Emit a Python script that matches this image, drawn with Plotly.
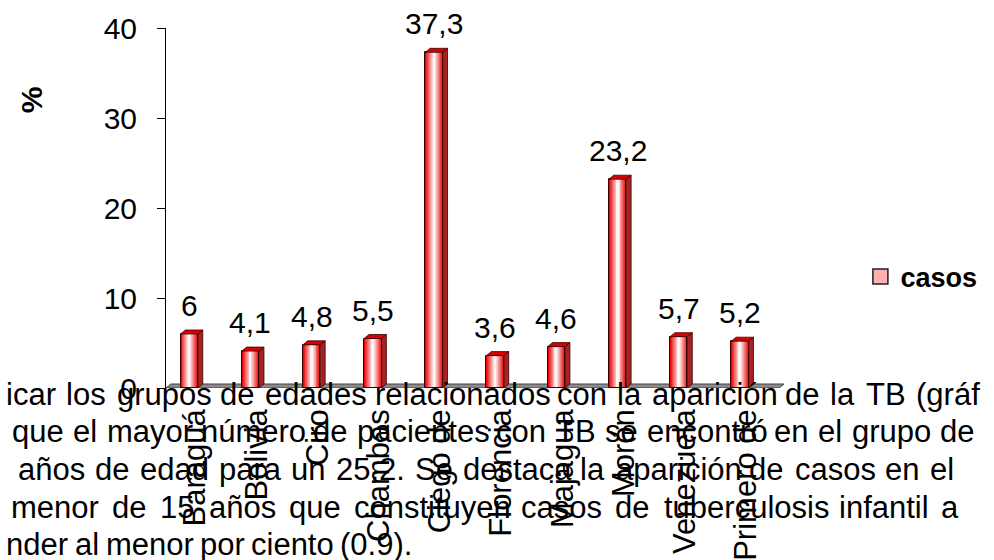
import plotly.graph_objects as go

# ---- data ----
municipios = ["Baraguá", "Bolivia", "Ciro", "Chambas", "Ciego de",
              "Florencia", "Majagua", "Morón", "Venezuela", "Primero de"]
casos = [6, 4.1, 4.8, 5.5, 37.3, 3.6, 4.6, 23.2, 5.7, 5.2]
y_ticks = [0, 10, 20, 30, 40]

# body text of the page the chart sits on
texto = [
    "icar los grupos de edades relacionados con la aparición de la TB (gráf",
    "que el mayor número de pacientes con TB se encontró en el grupo de",
    "años de edad para un 25.2. Se destaca la aparición de casos en el",
    "menor de 15 años que constituyen casos de tuberculosis infantil a",
    "nder al menor por ciento (0.9).",
]

FONT = "Liberation Sans, Arial, sans-serif"
W_PAGE, H_PAGE = 994, 560
L, R, T, B = 166, 189, 28, 172
PW, PH = W_PAGE - L - R, H_PAGE - T - B
X_RANGE = [-0.38, 9.72]
Y_RANGE = [0, 40]

ux = PW / (X_RANGE[1] - X_RANGE[0])   # px per category
uy = PH / (Y_RANGE[1] - Y_RANGE[0])   # px per %

bar_w = 18 / ux          # front face width
dx = 5 / ux              # depth offset (horizontal)
dy = 4 / uy              # depth offset (vertical)

xs = list(range(len(casos)))

fig = go.Figure()

# front faces: stacked narrower layers give a red -> white horizontal gradient
N = 9
c0 = (232, 8, 8)
c1 = (255, 244, 244)
for k in range(N):
    t = k / (N - 1)
    col = tuple(round(c0[j] + (c1[j] - c0[j]) * t) for j in range(3))
    fig.add_trace(go.Bar(
        x=xs, y=casos, width=bar_w * (1 - k / N),
        marker=dict(color="rgb(%d,%d,%d)" % col, line=dict(width=0)),
        showlegend=False, hoverinfo="skip",
    ))
# outline of the front faces
fig.add_trace(go.Bar(
    x=xs, y=casos, width=bar_w,
    marker=dict(color="rgba(0,0,0,0)", line=dict(width=1, color="#3a0000")),
    showlegend=False, hoverinfo="skip",
))

# side and top faces of each column
sx, sy, tx, ty = [], [], [], []
for x, v in zip(xs, casos):
    xr = x + bar_w / 2
    xl = x - bar_w / 2
    sx += [xr, xr + dx, xr + dx, xr, xr, None]
    sy += [0, dy, v + dy, v, 0, None]
    tx += [xl, xr, xr + dx, xl + dx, xl, None]
    ty += [v, v, v + dy, v + dy, v, None]
fig.add_trace(go.Scatter(x=sx, y=sy, mode="lines", fill="toself",
                         fillcolor="#a82222", line=dict(color="#3a0000", width=0.8),
                         showlegend=False, hoverinfo="skip"))
fig.add_trace(go.Scatter(x=tx, y=ty, mode="lines", fill="toself",
                         fillcolor="#d80000", line=dict(color="#3a0000", width=0.8),
                         showlegend=False, hoverinfo="skip"))

# legend entry
fig.add_trace(go.Scatter(x=[None], y=[None], mode="markers", name="casos",
                         marker=dict(symbol="square", size=15, color="#ffb0b0",
                                     line=dict(color="#202020", width=1.5))))

# floor of the 3D plot
fx0, fx1 = X_RANGE[0], X_RANGE[1] - dx
floor_path = "M %f 0 L %f 0 L %f %f L %f %f Z" % (
    fx0, fx1, fx1 + dx, dy, fx0 + dx, dy)
fig.add_shape(type="path", path=floor_path, xref="x", yref="y",
              fillcolor="#8c8c8c", line=dict(color="#404040", width=1),
              layer="below")

# value labels above each column
annotations = []
for x, v in zip(xs, casos):
    annotations.append(dict(
        x=x, y=v + dy, xref="x", yref="y", text=("%g" % v).replace(".", ","),
        showarrow=False, yanchor="bottom", xanchor="center", yshift=6,
        font=dict(family=FONT, size=30, color="#000"),
    ))

# axis title
annotations.append(dict(
    x=(8 - L) / PW, y=(T + PH - 84) / PH, xref="paper", yref="paper",
    text="%", textangle=-90, showarrow=False,
    font=dict(family=FONT, size=30, color="#000", weight="bold"),
))

# ---- page text, justified line by line ----
AW = {" ": 278, "a": 556, "b": 556, "c": 500, "d": 556, "e": 556, "f": 278,
      "g": 556, "h": 556, "i": 222, "j": 222, "k": 500, "l": 222, "m": 833,
      "n": 556, "o": 556, "p": 556, "q": 556, "r": 333, "s": 500, "t": 278,
      "u": 556, "v": 500, "w": 722, "x": 500, "y": 500, "z": 500,
      "T": 611, "B": 667, "S": 667, "(": 333, ")": 333, ".": 278, ",": 278,
      "á": 556, "é": 556, "í": 278, "ó": 556, "ú": 556, "ñ": 556}
TXT_FS = 31


def word_w(w):
    return sum(AW.get(ch, 556) for ch in w) * TXT_FS / 1000.0


# (left of first word, left of last word or None for natural spacing, baseline)
line_geom = [(0, 940, 405), (6, 965, 442), (12, 955, 480), (5, 966, 518), (0, None, 555)]
for line, (x0, xlast, base) in zip(texto, line_geom):
    words = line.split(" ")
    widths = [word_w(w) for w in words]
    if xlast is None:
        gap = AW[" "] * TXT_FS / 1000.0
    else:
        gap = (xlast - x0 - sum(widths[:-1])) / (len(words) - 1)
    xpos = x0
    cy = base - 0.3465 * TXT_FS
    for w, ww in zip(words, widths):
        annotations.append(dict(
            x=(xpos - L) / PW, y=(T + PH - cy) / PH, xref="paper", yref="paper",
            text=w, showarrow=False, xanchor="left", yanchor="middle",
            borderpad=0, font=dict(family=FONT, size=TXT_FS, color="#000"),
        ))
        xpos += ww + gap

fig.update_layout(
    width=W_PAGE, height=H_PAGE,
    margin=dict(l=L, r=R, t=T, b=B, pad=0),
    paper_bgcolor="white", plot_bgcolor="rgba(0,0,0,0)",
    barmode="overlay", bargap=0,
    font=dict(family=FONT, color="#000"),
    showlegend=True,
    legend=dict(x=(884 - L) / PW, y=(T + PH - 277) / PH, xanchor="left", yanchor="middle",
                font=dict(family=FONT, size=27, color="#000", weight="bold"),
                bgcolor="rgba(0,0,0,0)", borderwidth=0, itemsizing="trace",
                itemwidth=30),
    annotations=annotations,
)
fig.update_xaxes(
    range=X_RANGE, tickmode="array", tickvals=[x + 0.1 for x in xs], ticktext=municipios,
    tickangle=-90, tickfont=dict(family=FONT, size=31, color="#000"),
    showgrid=False, zeroline=False, showline=False, ticks="", automargin=False,
    ticklabelstandoff=14,
)
fig.update_yaxes(
    range=Y_RANGE, tickmode="array", tickvals=y_ticks,
    tickfont=dict(family=FONT, size=30, color="#000"),
    showgrid=False, zeroline=False, showline=True, linecolor="#000", linewidth=1,
    ticks="outside", ticklen=8, tickcolor="#000", automargin=False,
    ticklabelstandoff=14,
)

fig.write_html("out.html")
